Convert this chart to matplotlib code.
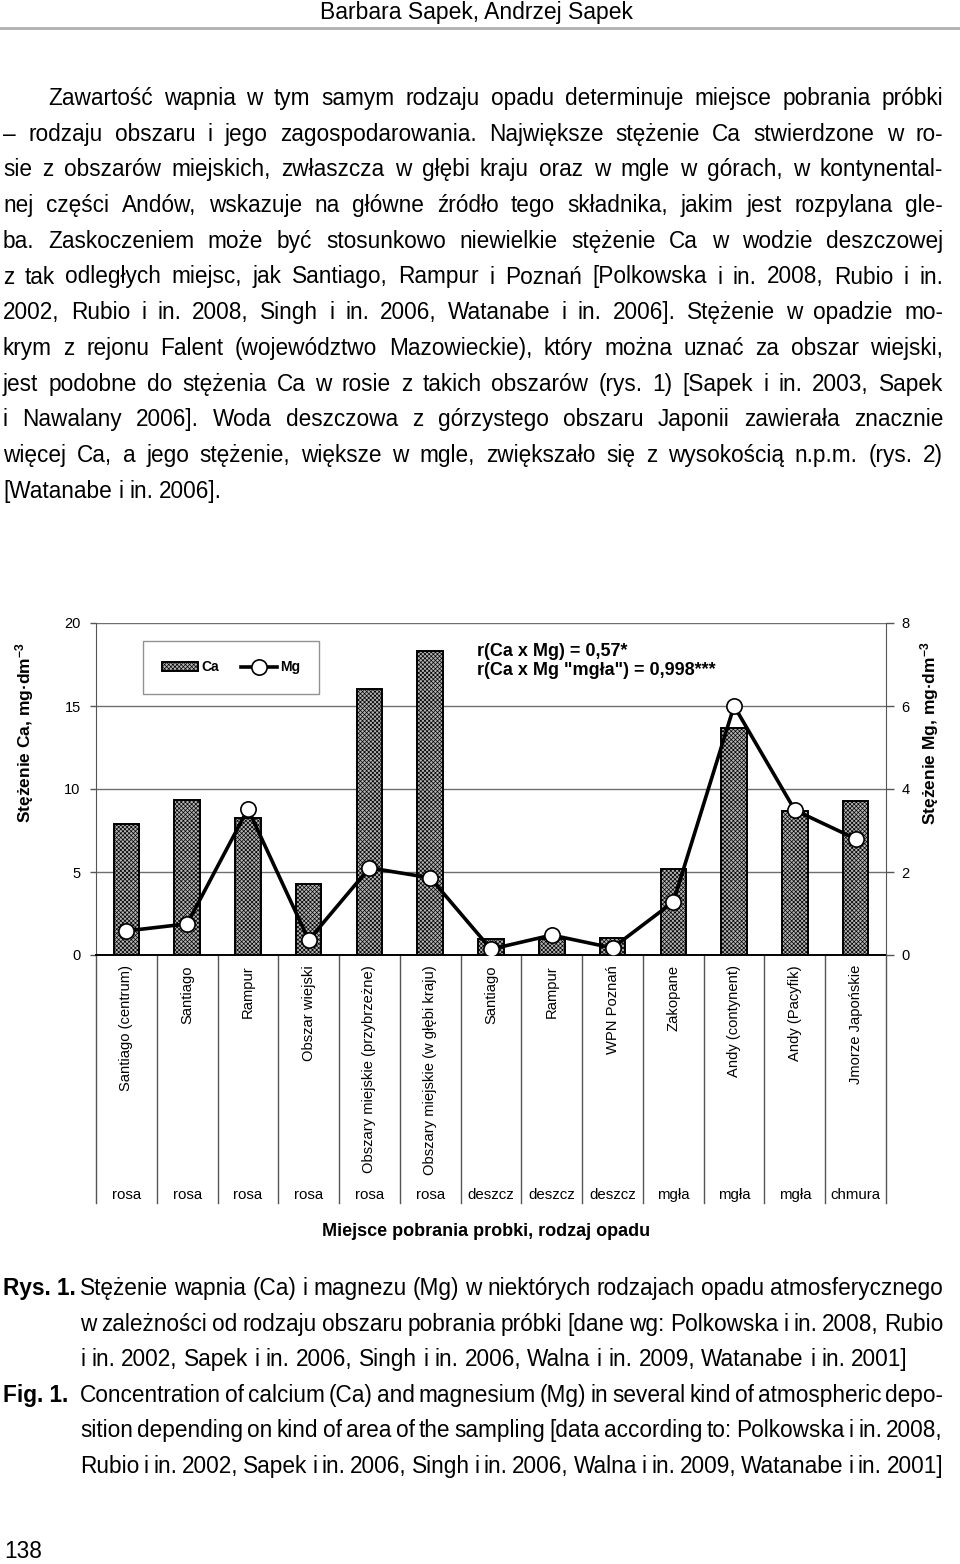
import matplotlib
matplotlib.use("Agg")
import matplotlib.pyplot as plt
from matplotlib.lines import Line2D
import numpy as np

FONT = ["Liberation Sans", "DejaVu Sans"]
plt.rcParams["font.family"] = FONT
plt.rcParams["mathtext.default"] = "regular"
plt.rcParams["hatch.linewidth"] = 0.5

W, H = 960, 1564

# --- chart data -------------------------------------------------------
miejsca = ["Santiago (centrum)", "Santiago", "Rampur", "Obszar wiejski",
           "Obszary miejskie (przybrzeżne)", "Obszary miejskie (w głębi kraju)",
           "Santiago", "Rampur", "WPN Poznań", "Zakopane", "Andy (contynent)",
           "Andy (Pacyfik)", "Jmorze Japońskie"]
opad = ["rosa", "rosa", "rosa", "rosa", "rosa", "rosa",
        "deszcz", "deszcz", "deszcz", "mgła", "mgła", "mgła", "chmura"]
ca = [7.9, 9.35, 8.25, 4.3, 16.0, 18.3, 0.95, 0.95, 1.05, 5.2, 13.7, 8.7, 9.3]
mg = [0.58, 0.75, 3.52, 0.36, 2.1, 1.86, 0.14, 0.48, 0.17, 1.28, 6.0, 3.49, 2.8]
ca_ticks = [0, 5, 10, 15, 20]
mg_ticks = [0, 2, 4, 6, 8]

# --- page text --------------------------------------------------------
header = "Barbara Sapek, Andrzej Sapek"
body = [
    "Zawartość wapnia w tym samym rodzaju opadu determinuje miejsce pobrania próbki",
    "– rodzaju obszaru i jego zagospodarowania. Największe stężenie Ca stwierdzone w ro-",
    "sie z obszarów miejskich, zwłaszcza w głębi kraju oraz w mgle w górach, w kontynental-",
    "nej części Andów, wskazuje na główne źródło tego składnika, jakim jest rozpylana gle-",
    "ba. Zaskoczeniem może być stosunkowo niewielkie stężenie Ca w wodzie deszczowej",
    "z tak odległych miejsc, jak Santiago, Rampur i Poznań [Polkowska i in. 2008, Rubio i in.",
    "2002, Rubio i in. 2008, Singh i in. 2006, Watanabe i in. 2006]. Stężenie w opadzie mo-",
    "krym z rejonu Falent (województwo Mazowieckie), który można uznać za obszar wiejski,",
    "jest podobne do stężenia Ca w rosie z takich obszarów (rys. 1) [Sapek i in. 2003, Sapek",
    "i Nawalany 2006]. Woda deszczowa z górzystego obszaru Japonii zawierała znacznie",
    "więcej Ca, a jego stężenie, większe w mgle, zwiększało się z wysokością n.p.m. (rys. 2)",
    "[Watanabe i in. 2006].",
]
rys = [
    "Stężenie wapnia (Ca) i magnezu (Mg) w niektórych rodzajach opadu atmosferycznego",
    "w zależności od rodzaju obszaru pobrania próbki [dane wg: Polkowska i in. 2008, Rubio",
    "i in. 2002, Sapek i in. 2006, Singh i in. 2006, Walna i in. 2009, Watanabe i in. 2001]",
]
fig_en = [
    "Concentration of calcium (Ca) and magnesium (Mg) in several kind of atmospheric depo-",
    "sition depending on kind of area of the sampling [data according to: Polkowska i in. 2008,",
    "Rubio i in. 2002, Sapek i in. 2006, Singh i in. 2006, Walna i in. 2009, Watanabe i in. 2001]",
]

TXT = 16.3


def fx(px):
    return px / W


def fy(py):
    return 1 - py / H


def put_line(fig, renderer, text, x0, x1, base_y, size, justify=True, weight="normal"):
    words = text.split(" ")
    objs, widths = [], []
    for w in words:
        t = fig.text(0, 0, w, fontsize=size, fontweight=weight, va="baseline", ha="left")
        objs.append(t)
        widths.append(t.get_window_extent(renderer).width)
    probe_a = fig.text(0, 0, "x x", fontsize=size)
    probe_b = fig.text(0, 0, "xx", fontsize=size)
    space = probe_a.get_window_extent(renderer).width - probe_b.get_window_extent(renderer).width
    probe_a.remove()
    probe_b.remove()
    if justify and len(words) > 1:
        gap = (x1 - x0 - sum(widths)) / (len(words) - 1)
    else:
        gap = space
    x = x0
    for t, w in zip(objs, widths):
        t.set_position((fx(x), fy(base_y)))
        x += w + gap


fig = plt.figure(figsize=(W / 100, H / 100), dpi=100)
renderer = fig.canvas.get_renderer()

# header
fig.text(fx(476), fy(19), header, fontsize=16.5, ha="center", va="baseline")
fig.add_artist(Line2D([0, 1], [fy(28), fy(28)], transform=fig.transFigure,
                      color="#b0b0b0", lw=2))

# body paragraph
for i, line in enumerate(body):
    x0 = 48 if i == 0 else 3
    put_line(fig, renderer, line, x0, 943, 105 + 35.7 * i, TXT,
             justify=(i < len(body) - 1))

# --- chart ------------------------------------------------------------
left, right, top, bottom = 96, 886, 623, 955
ax = fig.add_axes([fx(left), fy(bottom), fx(right - left), (bottom - top) / H])
x = np.arange(len(miejsca))

ax.set_axisbelow(True)
bars = ax.bar(x, ca, width=0.42, facecolor="#b4b4b4", edgecolor="black",
              linewidth=1.4, hatch="xxxxxxxx", label="Ca", zorder=2)
ax.set_xlim(-0.5, len(miejsca) - 0.5)
ax.set_ylim(0, 20)
ax.set_yticks(ca_ticks)
ax.yaxis.grid(True, color="#6e6e6e", lw=1)
ax.set_xticks([])
for s in ["top", "right"]:
    ax.spines[s].set_visible(False)
ax.spines["left"].set_color("#555555")
ax.spines["bottom"].set_color("black")
ax.spines["bottom"].set_linewidth(1.4)
ax.tick_params(axis="y", direction="out", length=4, width=1, color="#555555",
               labelsize=10.5, pad=7)

ax2 = ax.twinx()
line, = ax2.plot(x, mg, color="black", lw=2.6, marker="o", markersize=11,
                 markerfacecolor="white", markeredgecolor="black",
                 markeredgewidth=1.2, label="Mg", zorder=3)
ax2.set_ylim(0, 8)
ax2.set_yticks(mg_ticks)
for s in ["top", "left", "bottom"]:
    ax2.spines[s].set_visible(False)
ax2.spines["right"].set_color("#555555")
ax2.tick_params(axis="y", direction="out", length=6, width=1, color="#555555",
                labelsize=10.5, pad=5)

# separators and category labels below the plot
low = -(1203 - bottom) / (bottom - top)
trans = ax.get_xaxis_transform()
for b in np.arange(-0.5, len(miejsca), 1.0):
    ax.plot([b, b], [0, low], transform=trans, color="#555555", lw=1,
            clip_on=False, zorder=1)
for i, (m, o) in enumerate(zip(miejsca, opad)):
    ax.text(i, -10 / (bottom - top), m, transform=trans, rotation=90,
            ha="center", va="top", fontsize=10.6)
    ax.text(i, -(1195 - bottom) / (bottom - top), o, transform=trans,
            ha="center", va="center", fontsize=10.8)

leg = ax2.legend(handles=[bars, line], labels=["Ca", "Mg"], ncol=2,
                 loc="center", bbox_to_anchor=(0.171, 0.866),
                 frameon=True, fancybox=False, edgecolor="#777777",
                 prop={"weight": "bold", "size": 10}, borderpad=1.4,
                 handlelength=2.6, columnspacing=1.6, handletextpad=0.2)
leg.get_frame().set_linewidth(1)

ax2.text(0.482, 0.94, "r(Ca x Mg) = 0,57*\nr(Ca x Mg \"mgła\") = 0,998***",
         transform=ax.transAxes, ha="left", va="top", fontsize=13,
         fontweight="bold", linespacing=1.15)

fig.text(fx(25), fy(733), "Stężenie Ca, mg·dm$^{-3}$", rotation=90,
         ha="center", va="center", fontsize=12.5, fontweight="bold")
fig.text(fx(930), fy(733), "Stężenie Mg, mg·dm$^{-3}$", rotation=90,
         ha="center", va="center", fontsize=12.5, fontweight="bold")
fig.text(fx(486), fy(1232), "Miejsce pobrania probki, rodzaj opadu",
         ha="center", va="center", fontsize=13, fontweight="bold")

# --- caption ----------------------------------------------------------
cap_y = 1295
fig.text(fx(3), fy(cap_y), "Rys. 1.", fontsize=TXT, fontweight="bold", va="baseline")
for i, t in enumerate(rys):
    put_line(fig, renderer, t, 80, 943, cap_y + 35.6 * i, TXT, justify=(i < len(rys) - 1))
fig_y = cap_y + 35.6 * 3
fig.text(fx(3), fy(fig_y), "Fig. 1.", fontsize=TXT, fontweight="bold", va="baseline")
for i, t in enumerate(fig_en):
    put_line(fig, renderer, t, 80, 943, fig_y + 35.6 * i, TXT)

fig.text(fx(4), fy(1558), "138", fontsize=TXT, va="baseline")

fig.savefig("out.png", dpi=100)
